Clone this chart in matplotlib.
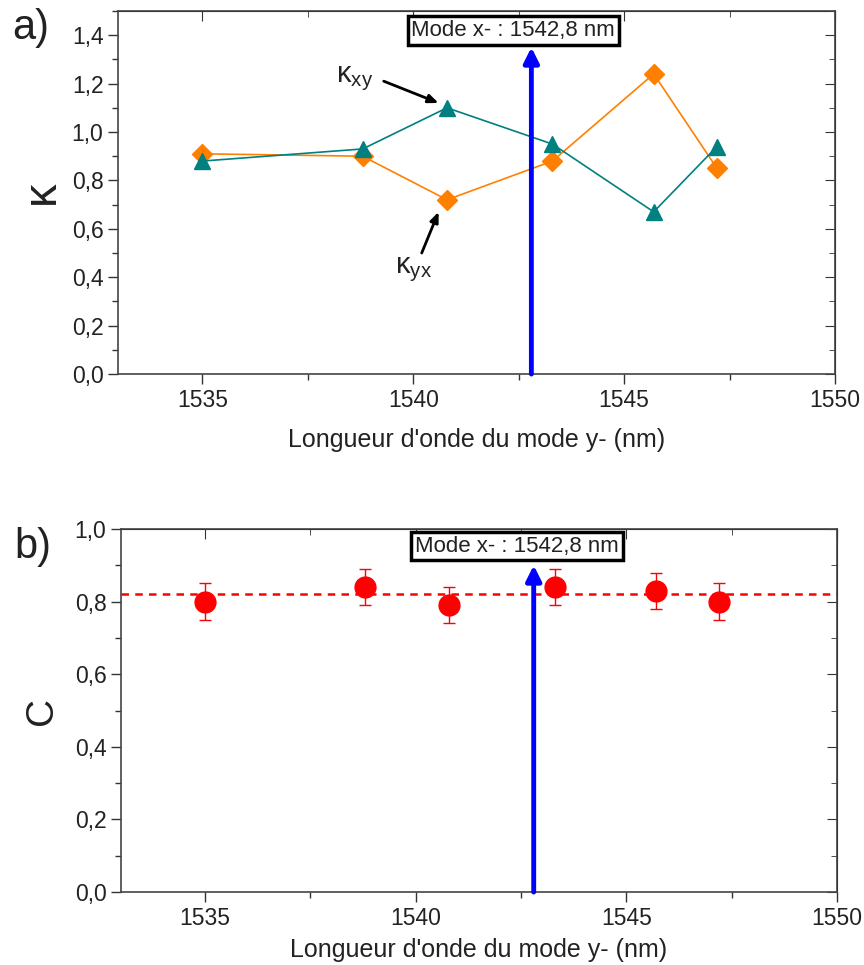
import matplotlib
matplotlib.use('Agg')
import matplotlib.pyplot as plt
from matplotlib.ticker import MultipleLocator, FuncFormatter

plt.rcParams['font.family'] = ['Liberation Sans', 'DejaVu Sans']
plt.rcParams['mathtext.fontset'] = 'custom'
plt.rcParams['mathtext.rm'] = 'Liberation Sans'
plt.rcParams['mathtext.it'] = 'Liberation Sans'

# data
wavelength = [1535.0, 1538.8, 1540.8, 1543.3, 1545.7, 1547.2]
kappa_xy = [0.88, 0.93, 1.10, 0.95, 0.67, 0.94]
kappa_yx = [0.91, 0.90, 0.72, 0.88, 1.24, 0.85]
contrast = [0.80, 0.84, 0.79, 0.84, 0.83, 0.80]
contrast_err = [0.05, 0.05, 0.05, 0.05, 0.05, 0.05]
contrast_mean = 0.82
mode_x = 1542.8

TEAL = '#008080'
ORANGE = '#FF8000'


def comma(v, pos):
    return ('%.1f' % v).replace('.', ',')


def style_axes(ax, ymax, ymajor, pad):
    ax.set_xlim(1533, 1550)
    ax.set_ylim(0, ymax)
    ax.xaxis.set_major_locator(MultipleLocator(5))
    ax.xaxis.set_minor_locator(MultipleLocator(2.5))
    ax.yaxis.set_major_locator(MultipleLocator(ymajor))
    ax.yaxis.set_minor_locator(MultipleLocator(0.1))
    ax.yaxis.set_major_formatter(FuncFormatter(comma))
    ax.tick_params(which='major', direction='out', length=7, width=1.0,
                   labelsize=16.5, colors='#333333', labelcolor='#222222')
    ax.tick_params(which='minor', direction='out', length=4, width=1.0, colors='#333333')
    for s in ax.spines.values():
        s.set_color('#444444')
        s.set_linewidth(1.2)
    # mirrored ticks pointing inward on top / right
    top = ax.secondary_xaxis('top')
    top.xaxis.set_major_locator(MultipleLocator(5))
    top.xaxis.set_minor_locator(MultipleLocator(2.5))
    top.tick_params(which='both', direction='in', labeltop=False, colors='#333333')
    top.tick_params(which='major', length=7)
    top.tick_params(which='minor', length=4)
    right = ax.secondary_yaxis('right')
    right.yaxis.set_major_locator(MultipleLocator(ymajor))
    right.yaxis.set_minor_locator(MultipleLocator(0.1))
    right.tick_params(which='both', direction='in', labelright=False, colors='#333333')
    right.tick_params(which='major', length=7)
    right.tick_params(which='minor', length=4)
    ax.set_xlabel("Longueur d'onde du mode y- (nm)", fontsize=18, color='#222222', labelpad=pad)


def mode_arrow(ax, ytop, ybox, xbox):
    ax.annotate('', xy=(mode_x, ytop), xytext=(mode_x, 0),
                arrowprops=dict(arrowstyle='-|>,head_width=0.45,head_length=0.9',
                                color='#0000FF', lw=3.5, shrinkA=0, shrinkB=0), zorder=4)
    ax.text(xbox, ybox, 'Mode x- : 1542,8 nm', fontsize=16, ha='center', va='center',
            color='#222222', zorder=5,
            bbox=dict(boxstyle='square,pad=0.17', fc='white', ec='black', lw=2.5))


def label_arrow(ax, start, end):
    ax.annotate('', xy=end, xytext=start,
                arrowprops=dict(arrowstyle='-|>,head_width=0.25,head_length=0.6',
                                color='black', lw=2, shrinkA=0, shrinkB=0))


fig = plt.figure(figsize=(8.64, 9.65), dpi=100)
ax1 = fig.add_axes([0.1366, 0.6124, 0.8299, 0.3762])
ax2 = fig.add_axes([0.1400, 0.0756, 0.8287, 0.3762])

# panel a
ax1.plot(wavelength, kappa_yx, color=ORANGE, lw=1.2, marker='D', ms=10,
         mfc=ORANGE, mec=ORANGE, zorder=3)
ax1.plot(wavelength, kappa_xy, color=TEAL, lw=1.2, marker='^', ms=12,
         mfc=TEAL, mec=TEAL, zorder=3)
style_axes(ax1, 1.5, 0.2, 12)
ax1.set_ylabel('κ', fontsize=34, color='#222222')
ax1.yaxis.set_label_coords(-0.075, 0.5)
mode_arrow(ax1, 1.35, 1.42, 1542.37)

ax1.text(1538.6, 1.22, r'$\mathrm{κ_{xy}}$', fontsize=21, ha='center', va='center', color='#222222')
label_arrow(ax1, (1539.3, 1.21), (1540.6, 1.12))
ax1.text(1540.0, 0.43, r'$\mathrm{κ_{yx}}$', fontsize=21, ha='center', va='center', color='#222222')
label_arrow(ax1, (1540.2, 0.50), (1540.6, 0.67))

# panel b
ax2.axhline(contrast_mean, color='#FF0000', lw=1.8, ls=(0, (3, 2.5)), zorder=2)
ax2.errorbar(wavelength, contrast, yerr=contrast_err, fmt='o', color='#FF0000',
             ms=15, ecolor='#FF0000', elinewidth=1.0, capsize=4, capthick=1.0, zorder=3)
style_axes(ax2, 1.0, 0.2, 6)
ax2.set_ylabel('C', fontsize=28, color='#222222')
ax2.yaxis.set_label_coords(-0.085, 0.5)
mode_arrow(ax2, 0.90, 0.953, 1542.4)

fig.text(0.014, 0.971, 'a)', fontsize=30, ha='left', va='center', color='#222222')
fig.text(0.017, 0.433, 'b)', fontsize=30, ha='left', va='center', color='#222222')

fig.savefig('out.png', dpi=100)
